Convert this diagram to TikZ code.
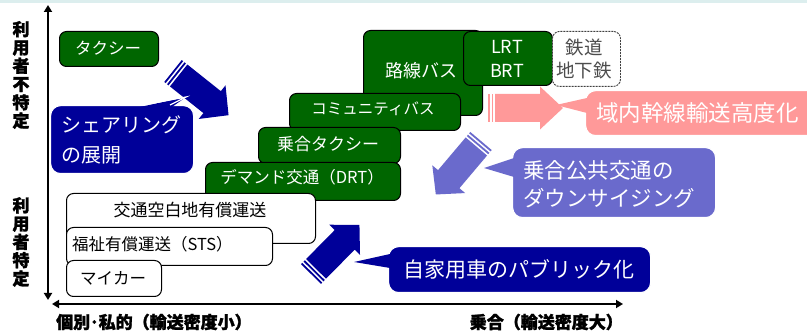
\documentclass[tikz,border=0pt]{standalone}
\usepackage{fontspec}
\setmainfont{Noto Sans CJK JP}[BoldFeatures={FakeBold=1.6}]
\usetikzlibrary{arrows.meta}
\definecolor{navy}{HTML}{000099}
\definecolor{dgreen}{HTML}{006600}
\definecolor{purp}{HTML}{6A6ACC}
\definecolor{pinkc}{HTML}{FF9999}
\definecolor{topband}{HTML}{DCEEEE}
\newcommand\fs[2]{\fontsize{#1}{#2}\selectfont}
% striped block arrow: #1 colour, #2 x, #3 y (tail centre), #4 angle, #5 shaft length, #6 head length
\newcommand\stripedarrow[6]{%
  \begin{scope}[shift={(#2,#3)},rotate=#4]
    \fill[#1] (0,-14) rectangle (1.8,14);
    \fill[#1] (3.6,-14) rectangle (5.4,14);
    \fill[#1] (7.2,-14) -- (#5,-14) -- (#5,-21.5) -- ++(#6,21.5) -- ++(-#6,21.5) -- (#5,14) -- (7.2,14) -- cycle;
  \end{scope}}
\begin{document}
\begin{tikzpicture}[x=1pt,y=-1pt,
  gbox/.style={draw=black, line width=1, fill=dgreen, rounded corners=7, anchor=north west, inner sep=0},
  wbox/.style={draw=black, line width=1, fill=white, rounded corners=7, anchor=north west, inner sep=0},
  dbox/.style={draw=black!75, line width=0.9, dash pattern=on 2pt off 1pt, fill=white, rounded corners=7, anchor=north west, inner sep=0},
  gtext/.style={text=white, inner sep=0, font=\fs{16.5}{24}, align=center},
  wtext/.style={text=black, inner sep=0, font=\fs{16.5}{20}},
  callbox/.style={fill=#1, draw=white, line width=1.2, rounded corners=10, anchor=north west, inner sep=0},
  ctext/.style={text=white, inner sep=0},
  axlabel/.style={inner sep=0, font=\fs{17}{18.3}\bfseries, align=center},
  axis/.style={line width=2.6, {Triangle[length=7,width=8]}-{Triangle[length=7,width=8]}}
]
\useasboundingbox (0,0) rectangle (807,334);
\clip (0,0) rectangle (807,334);
\fill[white] (0,0) rectangle (807,334);
\fill[topband] (0,0) rectangle (807,3);

% axes
\coordinate (ytop) at (48,5);
\coordinate (ybot) at (48,300);
\coordinate (xleft) at (52,304);
\coordinate (xright) at (623,304);
\draw[axis] (ybot) -- (ytop);
\draw[axis] (xleft) -- (xright);
\node[axlabel] (yu) at (21,75) {利\\用\\者\\不\\特\\定};
\node[axlabel] (ys) at (21,242) {利\\用\\者\\特\\定};
\node[axlabel, anchor=west] (xl) at (56,322) {個別･私的（輸送密度小）};
\node[axlabel, anchor=east] (xr) at (623,322) {乗合（輸送密度大）};

% taxi
\node[gbox, minimum width=99, minimum height=35] (taxi) at (59,31) {};
\node[gtext] (taxit) at (108,48) {タクシー};

% striped arrow from taxi
\stripedarrow{navy}{173}{71}{-38.5}{50}{21}

% bus group
\node[gbox, minimum width=119, minimum height=85] (rosen) at (363,30) {};
\node[gtext, font=\fs{18}{24}] (rosent) at (421,71) {路線バス};
\node[gbox, minimum width=89, minimum height=54] (lrt) at (463,31) {};
\node[gtext, font=\fs{18}{24}] (lrtt) at (507,59) {LRT\\BRT};
\node[dbox, minimum width=68, minimum height=55] (tetsu) at (552,31) {};
\node[gtext, text=black!70, font=\fs{18.5}{23}] (tetsut) at (584,59) {鉄道\\地下鉄};

\node[gbox, minimum width=171, minimum height=37] (comm) at (289,93) {};
\node[gtext, font=\fs{15.5}{20}] (commt) at (373,109) {コミュニティバス};
\node[gbox, minimum width=142, minimum height=36] (nori) at (258,127) {};
\node[gtext, font=\fs{17}{20}] (norit) at (328,144) {乗合タクシー};
\node[gbox, minimum width=195, minimum height=38] (drt) at (205,162) {};
\node[gtext, font=\fs{16.5}{20}] (drtt) at (302,177) {デマンド交通（DRT）};

% white boxes
\node[wbox, minimum width=249, minimum height=50] (kuhaku) at (66,193) {};
\node[wtext, font=\fs{17}{20}] (kuhakut) at (190,210) {交通空白地有償運送};
\node[wbox, minimum width=206, minimum height=38] (fuku) at (66,227) {};
\node[wtext, anchor=west] (fukut) at (72,244) {福祉有償運送（STS）};
\node[wbox, minimum width=95, minimum height=36] (mycar) at (66,260) {};
\node[wtext] (mycart) at (113,278) {マイカー};

% sharing callout
\node[callbox=navy, minimum width=143, minimum height=68] (share) at (50,105) {};
\fill[navy] (140,107) -- (186,97) -- (172,107) -- cycle;
\draw[white, line width=1.2] (143,105) -- (186,97) -- (170,105);
\node[ctext, anchor=west, align=left, font=\fs{20}{30}] (sharet) at (61,140) {シェアリング\\の展開};

% navy arrow up-right + callout
\stripedarrow{navy}{311}{274}{45.4}{48}{21}
\node[callbox=navy, minimum width=262, minimum height=46] (pub) at (388,246) {};
\fill[navy] (390,254) -- (354,262) -- (390,268) -- cycle;
\node[ctext, font=\fs{21}{24}] (pubt) at (519,269) {自家用車のパブリック化};

% purple arrow + callout
\stripedarrow{purp}{481}{141}{-130.2}{50}{20}
\node[callbox=purp, minimum width=203, minimum height=70] (down) at (512,147) {};
\fill[purp] (514,158) -- (484,168) -- (514,177) -- cycle;
\node[ctext, anchor=west, align=left, font=\fs{21.5}{28}] (downt) at (523,184) {乗合公共交通の\\ダウンサイジング};

% pink arrow + callout
\stripedarrow{pinkc}{488}{108}{0}{52}{23}
\node[callbox=pinkc, minimum width=240, minimum height=45] (kan) at (585,90) {};
\fill[pinkc] (587,98) -- (556,105) -- (587,113) -- cycle;
\node[ctext, anchor=west, font=\fs{22.5}{26}] (kant) at (596,113) {域内幹線輸送高度化};
\end{tikzpicture}
\end{document}
